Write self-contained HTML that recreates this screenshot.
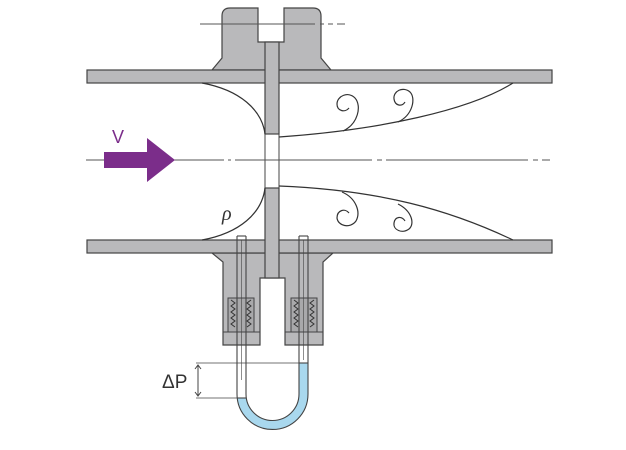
<!DOCTYPE html>
<html><head><style>body{margin:0;background:#fff}svg{display:block}</style></head><body>
<svg width="626" height="450" viewBox="0 0 626 450" xmlns="http://www.w3.org/2000/svg">
<g stroke="#444" stroke-width="1.2" fill="#b9b9bb">
<path d="M212,70 L222,58 L222,16 Q222,8 230,8 L258,8 L258,42 L284,42 L284,8 L313,8 Q321,8 321,16 L321,58 L331,70 Z"/>
<path d="M212,253 L223,262 L223,345 L260,345 L260,278 L285,278 L285,345 L323,345 L323,262 L333,253 Z"/>
<rect x="87" y="70" width="465" height="13"/>
<rect x="87" y="240" width="465" height="13"/>
<rect x="265" y="42" width="14" height="92"/>
<rect x="265" y="188" width="14" height="90"/>
</g>
<line x1="265" y1="134" x2="265" y2="188" stroke="#444" stroke-width="1"/>
<line x1="279" y1="134" x2="279" y2="188" stroke="#444" stroke-width="1"/>
<g stroke="#444" stroke-width="1" fill="#a9a9ab">
<rect x="228" y="298" width="26" height="34"/>
<rect x="291" y="298" width="26" height="34"/>
<line x1="223" y1="332" x2="260" y2="332"/><line x1="285" y1="332" x2="323" y2="332"/>
</g>
<g stroke="#333" stroke-width="1" fill="none">
<path d="M231,300 l4,3 -4,3 4,3 -4,3 4,3 -4,3 4,3 -4,3 4,3"/>
<path d="M251,300 l-4,3 4,3 -4,3 4,3 -4,3 4,3 -4,3 4,3 -4,3"/>
<path d="M294,300 l4,3 -4,3 4,3 -4,3 4,3 -4,3 4,3 -4,3 4,3"/>
<path d="M314,300 l-4,3 4,3 -4,3 4,3 -4,3 4,3 -4,3 4,3 -4,3"/>
</g>
<path d="M237,398 L246,398 L246,394 A26.5,26.5 0 0 0 299,394 L299,363 L308,363 L308,394 A35.5,35.5 0 0 1 237,394 Z" fill="#a9d8ee"/>
<g stroke="#444" stroke-width="1.1" fill="none">
<path d="M237,236 L237,394 A35.5,35.5 0 0 0 308,394 L308,236"/>
<path d="M246,236 L246,394 A26.5,26.5 0 0 0 299,394 L299,236"/>
<line x1="237" y1="236" x2="246" y2="236"/><line x1="299" y1="236" x2="308" y2="236"/>
<line x1="241.5" y1="240" x2="241.5" y2="380" stroke-width="0.6"/>
<line x1="303.5" y1="240" x2="303.5" y2="360" stroke-width="0.6"/>
<line x1="237" y1="398" x2="246" y2="398"/>
<line x1="299" y1="363" x2="308" y2="363"/>
<line x1="196" y1="363" x2="299" y2="363" stroke-width="0.8"/>
<line x1="196" y1="398" x2="237" y2="398" stroke-width="0.8"/>
<path d="M198,366 L198,395 M195,369 L198,365 L201,369 M195,392 L198,396 L201,392" stroke-width="1"/>
</g>
<text x="162" y="388" font-family="Liberation Sans, sans-serif" font-size="19" fill="#333">ΔP</text>
<g stroke="#555" stroke-width="1">
<line x1="86" y1="160" x2="224" y2="160"/><line x1="228" y1="160" x2="231" y2="160"/><line x1="235" y1="160" x2="372" y2="160"/>
<line x1="377" y1="160" x2="382" y2="160"/><line x1="386" y1="160" x2="528" y2="160"/><line x1="533" y1="160" x2="538" y2="160"/><line x1="542" y1="160" x2="550" y2="160"/>
<line x1="200" y1="24" x2="315" y2="24"/><line x1="320" y1="24" x2="324" y2="24"/><line x1="328" y1="24" x2="333" y2="24"/><line x1="337" y1="24" x2="345" y2="24"/>
</g>
<g stroke="#333" stroke-width="1.2" fill="none">
<path d="M202,83 C240,90 262,110 265,134"/>
<path d="M202,240 C240,233 262,213 265,188"/>
<path d="M279,137 C380,130 470,110 513,83"/>
<path d="M279,186 C380,190 450,210 513,240"/>
<path d="M343,131 C358,124 362,106 355,98 C348,91 337,96 337,104 C337,111 345,113 349,108"/>
<path d="M398,122 C413,115 416,98 410,92 C403,86 393,91 394,99 C395,106 402,107 405,102"/>
<path d="M342,192 C356,198 361,212 356,221 C350,229 338,226 337,218 C337,210 345,208 349,213"/>
<path d="M398,204 C412,211 415,224 409,229 C402,234 393,230 394,223 C395,216 402,216 405,221"/>
</g>
<text x="222" y="220" font-family="Liberation Serif, serif" font-style="italic" font-size="20" fill="#333">ρ</text>
<path d="M104,152 L147,152 L147,138 L175,160 L147,182 L147,168 L104,168 Z" fill="#7b2d8a"/>
<text x="112" y="143" font-family="Liberation Sans, sans-serif" font-size="18" fill="#7b2d8a">V</text>
</svg>
</body></html>
